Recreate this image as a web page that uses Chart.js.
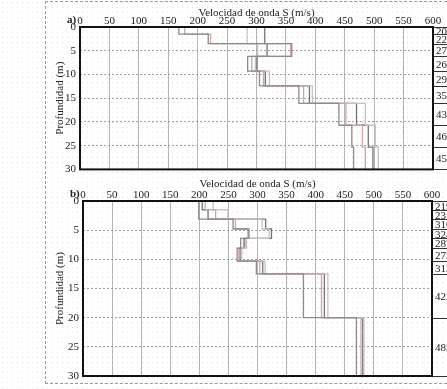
<!DOCTYPE html>
<html>
<head>
<meta charset="utf-8">
<script src="https://cdn.jsdelivr.net/npm/chart.js@4.4.1/dist/chart.umd.min.js"></script>
<style>
  html, body { margin: 0; padding: 0; }
  body {
    width: 447px; height: 389px; overflow: hidden; position: relative;
    background-color: #fff;
    background-image: radial-gradient(circle, #eadfdf 0.6px, transparent 0.8px);
    background-size: 5px 5px;
    font-family: "Liberation Serif", serif;
  }
  #frame { position: absolute; left: 45px; top: 1px; width: 420px; height: 381px; border: 1px dashed #9a9a9a; }
  #wrapA { position: absolute; left: 0; top: 0; width: 447px; height: 180px; }
  #wrapB { position: absolute; left: 0; top: 177px; width: 447px; height: 212px; }
</style>
</head>
<body>
<div id="frame"></div>
<div id="wrapA"><canvas id="chartA"></canvas></div>
<div id="wrapB"><canvas id="chartB"></canvas></div>
<script>
// layer tops/bottoms (m) and Vs of each profile (m/s)
var depthA = [0, 1.5, 3.5, 6.2, 9.3, 12.4, 16.1, 20.7, 25.3, 30];
var vsA1 = [168, 218, 360, 285, 305, 372, 440, 462, 465];
var vsA2 = [178, 222, 358, 292, 312, 380, 452, 480, 485];
var vsA3 = [284, 284, 302, 298, 322, 395, 485, 502, 507];
var vsA4 = [314, 314, 318, 301, 315, 390, 470, 490, 498];
var labelsA = ['201', '225', '275', '263', '292', '354', '431', '464', '457'];

var depthB = [0, 1.5, 3.1, 4.8, 6.4, 8.1, 10.3, 12.5, 20, 30];
var vsB1 = [199, 199, 258, 284, 271, 265, 298, 379, 470];
var vsB2 = [210, 228, 262, 286, 276, 268, 304, 410, 478];
var vsB3 = [224, 249, 308, 320, 281, 273, 313, 421, 483];
var vsB4 = [205, 215, 314, 324, 278, 270, 309, 415, 481];
var labelsB = ['219', '231', '310', '324', '287', '273', '313', '422', '485'];

var colors = ['#8c8c8c', '#d3a3a3', '#c4c4c4', '#747474'];

function steps(vs, depth) {
  var pts = [];
  for (var i = 0; i < vs.length; i++) {
    pts.push({x: vs[i], y: depth[i]});
    pts.push({x: vs[i], y: depth[i + 1]});
  }
  return pts;
}

var framePlugin = {
  id: 'frame',
  afterDraw: function(chart, args, opts) {
    var c = chart.ctx, a = chart.chartArea;
    var ys = chart.scales.y;
    c.save();
    // layer label boxes on the right
    c.strokeStyle = '#333';
    c.lineWidth = 1;
    c.fillStyle = '#222';
    c.font = '11px "Liberation Serif"';
    c.textBaseline = 'middle';
    for (var i = 0; i < opts.depth.length; i++) {
      var py = Math.round(ys.getPixelForValue(opts.depth[i])) + 0.5;
      c.beginPath(); c.moveTo(a.right, py); c.lineTo(a.right + 20, py); c.stroke();
      if (i < opts.labels.length) {
        var py2 = ys.getPixelForValue(opts.depth[i + 1]);
        c.fillText(opts.labels[i], a.right + 3, (py + py2) / 2 + 1);
      }
    }
    // plot border
    c.strokeStyle = '#111';
    c.lineWidth = 2;
    c.strokeRect(a.left, a.top, a.right - a.left, a.bottom - a.top);
    // panel letter
    c.font = 'bold 11px "Liberation Serif"';
    c.textBaseline = 'alphabetic';
    c.fillText(opts.letter, a.left - 13, a.top - 4);
    c.restore();
  }
};

function makeChart(id, depth, profiles, labels, letter, xAxisH, yAxisW, pad) {
  var datasets = [];
  for (var i = 0; i < profiles.length; i++) {
    datasets.push({
      data: steps(profiles[i], depth),
      showLine: true,
      borderColor: colors[i],
      borderWidth: 1.3,
      pointRadius: 0,
      fill: false
    });
  }
  return new Chart(document.getElementById(id), {
    type: 'scatter',
    data: { datasets: datasets },
    plugins: [framePlugin],
    options: {
      responsive: true,
      maintainAspectRatio: false,
      animation: false,
      layout: { padding: pad },
      plugins: {
        legend: { display: false },
        tooltip: { enabled: false },
        frame: { depth: depth, labels: labels, letter: letter }
      },
      scales: {
        x: {
          position: 'top',
          min: 0, max: 600,
          afterFit: function(s) { s.height = xAxisH; },
          ticks: { stepSize: 50, padding: -1, color: '#222', font: { family: 'Liberation Serif', size: 11 } },
          grid: { color: '#b4b4b4', lineWidth: 1, drawTicks: false },
          border: { display: false },
          title: { display: true, text: 'Velocidad de onda S (m/s)', color: '#222', padding: { top: 1, bottom: 0 },
                   font: { family: 'Liberation Serif', size: 11 } }
        },
        y: {
          reverse: true,
          min: 0, max: 30,
          afterFit: function(s) { s.width = yAxisW; },
          ticks: { stepSize: 5, padding: 4, color: '#222', font: { family: 'Liberation Serif', size: 11 } },
          grid: { color: '#a0a0a0', lineWidth: 1, drawTicks: false },
          border: { display: false, dash: [2, 2] },
          title: { display: true, text: 'Profundidad (m)', color: '#222', padding: 0,
                   font: { family: 'Liberation Serif', size: 11 } }
        }
      }
    }
  });
}

makeChart('chartA', depthA, [vsA1, vsA2, vsA3, vsA4], labelsA, 'a)', 21, 26,
  {top: 6, right: 14, bottom: 8, left: 54});
makeChart('chartB', depthB, [vsB1, vsB2, vsB3, vsB4], labelsB, 'b)', 24, 29,
  {top: 0, right: 15, bottom: 13, left: 54});
</script>
</body>
</html>
